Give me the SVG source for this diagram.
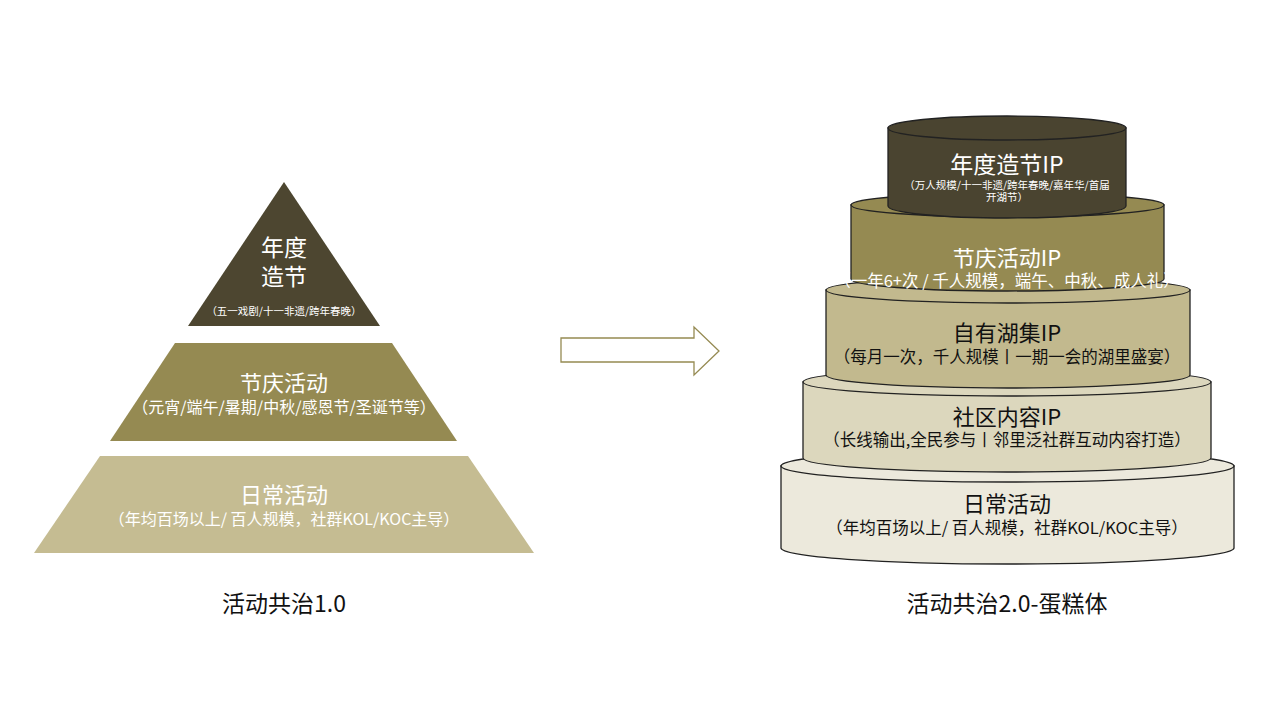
<svg xmlns="http://www.w3.org/2000/svg" width="1280" height="720" viewBox="0 0 1280 720">
<style>
text{font-family:"Noto Sans CJK SC","Liberation Sans",sans-serif;text-anchor:middle}
.w{fill:#fff}.k{fill:#111}
.cy{stroke:#222;stroke-width:1.3}
</style>
<rect width="1280" height="720" fill="#fff"/>
<g id="pyramid">
<g id="p1"><polygon points="284,182 380,326 188,326" fill="#4d4630"/>
<text class="w" x="284" y="256" font-size="23">年度</text><text class="w" x="284" y="285" font-size="23">造节</text>
<text class="w" x="284" y="315" font-size="10.5">（五一戏剧/十一非遗/跨年春晚）</text></g>
<g id="p2"><polygon points="175,343 392,343 457,441 110,441" fill="#958a52"/>
<text class="w" x="284" y="391" font-size="22">节庆活动</text>
<text class="w" x="284" y="413" font-size="16">（元宵/端午/暑期/中秋/感恩节/圣诞节等）</text></g>
<g id="p3"><polygon points="100,456 468,456 534,553 34,553" fill="#c5bc92"/>
<text class="w" x="284" y="503" font-size="22">日常活动</text>
<text class="w" x="284" y="525" font-size="16">（年均百场以上/ 百人规模，社群KOL/KOC主导）</text></g>
<text class="k" x="284" y="612" font-size="23">活动共治1.0</text>
</g>
<g id="connectors"><polygon points="561,338 694,338 694,327 719,351 694,375 694,362 561,362" fill="#fff" stroke="#958a52" stroke-width="1.3"/></g>
<g id="cake">
<g id="c5"><path class="cy" d="M781,466 V548 A226.5,16 0 0 0 1234,548 V466 Z" fill="#ece9dc"/><ellipse class="cy" cx="1007.5" cy="466" rx="226.5" ry="16" fill="#ece9dc"/>
<text class="k" x="1007" y="512" font-size="22">日常活动</text><text class="k" x="1007" y="534" font-size="16.5">（年均百场以上/ 百人规模，社群KOL/KOC主导）</text></g>
<g id="c4"><path class="cy" d="M803,382 V458 A204,14 0 0 0 1211,458 V382 Z" fill="#dcd7bd"/><ellipse class="cy" cx="1007" cy="382" rx="204" ry="14" fill="#dcd7bd"/>
<text class="k" x="1007" y="425" font-size="22">社区内容IP</text><text class="k" x="1007" y="446" font-size="16.5">（长线输出,全民参与丨邻里泛社群互动内容打造）</text></g>
<g id="c3"><path class="cy" d="M826,290 V375 A182,13 0 0 0 1190,375 V290 Z" fill="#c2b98e"/><ellipse class="cy" cx="1008" cy="290" rx="182" ry="13" fill="#c2b98e"/>
<text class="k" x="1007" y="341" font-size="22">自有湖集IP</text><text class="k" x="1007" y="363" font-size="16.5">（每月一次，千人规模丨一期一会的湖里盛宴）</text></g>
<g id="c2"><path class="cy" d="M851,205 V279 A156.5,12 0 0 0 1164,279 V205 Z" fill="#958a52"/><ellipse class="cy" cx="1007.5" cy="205" rx="156.5" ry="12" fill="#958a52"/>
<text class="w" x="1007" y="266" font-size="22">节庆活动IP</text><text class="w" x="1007" y="287" font-size="16.5">（一年6+次 / 千人规模，端午、中秋、成人礼）</text></g>
<g id="c1"><path class="cy" d="M888,128 V206 A119,12 0 0 0 1126,206 V128 Z" fill="#4a4430"/><ellipse class="cy" cx="1007" cy="128" rx="119" ry="12" fill="#4a4430"/>
<text class="w" x="1007" y="173" font-size="23">年度造节IP</text><text class="w" x="1007" y="189" font-size="10.5">（万人规模/十一非遗/跨年春晚/嘉年华/首届</text><text class="w" x="1007" y="201" font-size="10.5">开湖节）</text></g>
<text class="k" x="1007" y="612" font-size="23">活动共治2.0-蛋糕体</text>
</g>
</svg>
